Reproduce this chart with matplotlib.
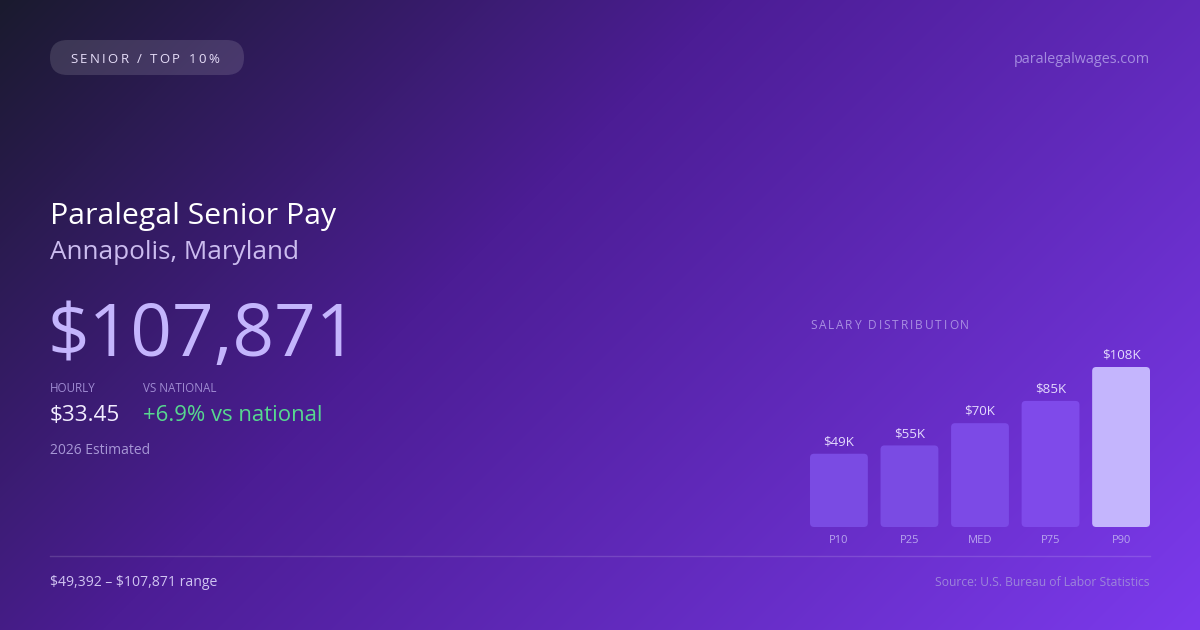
import numpy as np
import matplotlib
matplotlib.use("Agg")
import matplotlib.pyplot as plt
from matplotlib.patches import FancyBboxPatch
from matplotlib.colors import to_rgb

plt.rcParams['font.family'] = ['Open Sans', 'DejaVu Sans']
plt.rcParams['text.parse_math'] = False

# data
labels = ["P10", "P25", "MED", "P75", "P90"]
values = [49.392, 55.0, 70.0, 85.0, 107.871]   # thousands of dollars
value_text = ["$49K", "$55K", "$70K", "$85K", "$108K"]
bar_colors = ["#7a4be3", "#7a4be3", "#7c4ae6", "#7f4aea", "#c4b5fd"]

W, H = 1200, 630
fig = plt.figure(figsize=(W / 100, H / 100), dpi=100)

# background axes in pixel coordinates (y down)
bg = fig.add_axes([0, 0, 1, 1])
bg.set_xlim(0, W)
bg.set_ylim(H, 0)
bg.axis("off")

# 135deg linear gradient
yy, xx = np.mgrid[0:H, 0:W]
L = (W + H) * 0.7071
t = ((xx - W / 2) * 0.7071 + (yy - H / 2) * 0.7071) / L + 0.5
stops = [0.0, 0.4, 1.0]
cols = [to_rgb("#1a1a2e"), to_rgb("#4c1d95"), to_rgb("#7c3aed")]
img = np.zeros((H, W, 3))
for c in range(3):
    img[..., c] = np.interp(t, stops, [col[c] for col in cols])
bg.imshow(img, extent=(0, W, H, 0), aspect="auto", zorder=0)

renderer = fig.canvas.get_renderer()


def spaced_text(ax, x, y, s, spacing, **kw):
    # draw text char by char with extra letter spacing (pixels)
    for i, ch in enumerate(s):
        if i == 0:
            off = 0
        else:
            tmp = ax.text(0, 0, s[:i] + "|", **kw)
            bar_t = ax.text(0, 0, "|", **kw)
            off = (tmp.get_window_extent(renderer).width
                   - bar_t.get_window_extent(renderer).width)
            tmp.remove()
            bar_t.remove()
        ax.text(x + off + i * spacing, y, ch, **kw)


# pill badge
pill = FancyBboxPatch((50, 40), 194, 35, boxstyle="round,pad=0,rounding_size=17.5",
                      fc=(1, 1, 1, 0.13), ec="none", zorder=2)
bg.add_patch(pill)
spaced_text(bg, 70, 63, "SENIOR / TOP 10%", 2.4, fontsize=9.5, color="#e6ddf8",
            va="baseline", zorder=3)

bg.text(1150, 63, "paralegalwages.com", fontsize=10.4, color="#a48be0",
        ha="right", va="baseline")

# headline block
bg.text(50, 224, "Paralegal Senior Pay", fontsize=21.8, color="#ffffff", va="baseline")
bg.text(50, 259, "Annapolis, Maryland", fontsize=18.8, color="#cbbcef", va="baseline")
bg.text(47, 356, "$107,871", fontsize=52.5, color="#c4b5fd", va="baseline")

bg.text(50, 392, "HOURLY", fontsize=8.4, color="#9f8bd2", va="baseline")
bg.text(143, 392, "VS NATIONAL", fontsize=8.4, color="#9f8bd2", va="baseline")
bg.text(50, 421, "$33.45", fontsize=16.2, color="#f2edff", va="baseline")
bg.text(143, 421, "+6.9% vs national", fontsize=15.9, color="#57d88f", va="baseline")
bg.text(50, 454, "2026 Estimated", fontsize=10, color="#a797d6", va="baseline")

# footer
bg.plot([50, 1150], [556, 556], color=(1, 1, 1, 0.14), lw=1)
bg.text(50, 586, "$49,392 \u2013 $107,871 range", fontsize=10.1, color="#d0c4f2",
        va="baseline")
bg.text(1150, 586, "Source: U.S. Bureau of Labor Statistics", fontsize=8.7,
        color="#9c85da", ha="right", va="baseline")

spaced_text(bg, 810, 329, "SALARY DISTRIBUTION", 1.9, fontsize=8.6, color="#a98fe2",
            va="baseline")

# bar chart axes
x0, x1, ybot, ytop = 810, 1150, 527, 367
ax = fig.add_axes([x0 / W, (H - ybot) / H, (x1 - x0) / W, (ybot - ytop) / H])
ax.set_facecolor("none")
ax.axis("off")
bw = 0.82
n = len(values)
ax.set_xlim(-bw / 2, n - 1 + bw / 2)
ax.set_ylim(0, max(values))

px_x = (x1 - x0) / (n - 1 + bw)
px_y = (ybot - ytop) / max(values)
r = 4 / px_x
aspect = (4 / px_y) / r

pos = np.arange(n)
for i, (p, v) in enumerate(zip(pos, values)):
    patch = FancyBboxPatch((p - bw / 2, 0), bw, v,
                           boxstyle="round,pad=0,rounding_size=%f" % r,
                           mutation_aspect=aspect, fc=bar_colors[i], ec="none",
                           clip_on=False)
    ax.add_patch(patch)
    ax.annotate(value_text[i], (p, v), xytext=(0, 6), textcoords="offset points",
                ha="center", va="baseline", fontsize=9.6, color="#e4dafd",
                annotation_clip=False)
    ax.annotate(labels[i], (p, 0), xytext=(0, -11.5), textcoords="offset points",
                ha="center", va="baseline", fontsize=8, color="#b8a5ee",
                annotation_clip=False)

fig.savefig("out.png", dpi=100)
